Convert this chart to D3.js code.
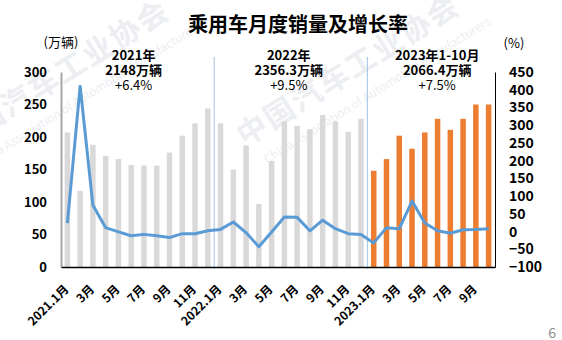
<!DOCTYPE html>
<html>
<head>
<meta charset="utf-8">
<script src="https://cdn.jsdelivr.net/npm/d3@7"></script>
<style>
  html, body { margin: 0; padding: 0; background: #fff; }
  svg { display: block; }
  text { font-family: "Noto Sans CJK SC", "Noto Sans", sans-serif; }
</style>
</head>
<body>
<svg id="chart" width="562" height="340"></svg>
<script>
// ---- data ----
const categories = [
  "2021.1月","2月","3月","4月","5月","6月","7月","8月","9月","10月","11月","12月",
  "2022.1月","2月","3月","4月","5月","6月","7月","8月","9月","10月","11月","12月",
  "2023.1月","2月","3月","4月","5月","6月","7月","8月","9月","10月"
];
const sales2021 = [207, 117, 188, 171, 166, 157, 156, 156, 176, 202, 221, 244];
const sales2022 = [221, 150, 187, 97, 163, 224, 217, 212, 234, 224, 208, 228];
const sales2023 = [148, 166, 202, 182, 207, 228, 211, 228, 250, 250];
const growth = [
  24, 410, 74, 11, -1, -12, -8, -12, -17, -6, -6, 2,
  6, 27, -3, -43, -1, 41, 40, 2, 32, 8, -6, -8,
  -32, 11, 8, 86, 24, 2, -5, 5, 6, 8
];
const leftTicks = [0, 50, 100, 150, 200, 250, 300];
const rightTicks = [-100, -50, 0, 50, 100, 150, 200, 250, 300, 350, 400, 450];
const yearNoteLines = [
  ["2021年", "2148万辆", "+6.4%"],
  ["2022年", "2356.3万辆", "+9.5%"],
  ["2023年1-10月", "2066.4万辆", "+7.5%"]
];
const yearStarts = [0, 12, 24];
const yearEnds = [12, 24, 34];
const title = "乘用车月度销量及增长率";

const sales = sales2021.concat(sales2022, sales2023);
const barData = categories.map((c, i) => ({ c, i, v: sales[i], cur: i >= 24 }));

// ---- layout ----
const svg = d3.select("#chart");
const L = 61, R = 495, T = 72, B = 267;

// faint watermark
const wm = svg.append("g").attr("fill", "#eceef2");
[[245, 147], [-45, 152]].forEach(([x, y]) => {
  const g = wm.append("g").attr("transform", `translate(${x},${y}) rotate(-32)`);
  g.append("text").attr("x", 0).attr("y", 0).attr("font-size", 30).attr("font-weight", 700)
    .attr("letter-spacing", 2).text("中国汽车工业协会");
  g.append("text").attr("x", 10).attr("y", 26).attr("font-size", 12)
    .text("China Association of Automobile Manufacturers");
});

const x = d3.scaleBand().domain(d3.range(categories.length)).range([L, R])
  .paddingInner(0.57).paddingOuter(0.285);
const step = x.step();
const yL = d3.scaleLinear().domain([0, 300]).range([B, T]);
const yR = d3.scaleLinear().domain([-100, 450]).range([B, T]);

// title
svg.append("text").attr("x", 298).attr("y", 32).attr("text-anchor", "middle")
  .attr("font-size", 20).attr("font-weight", 700).attr("fill", "#000").text(title);

// unit labels
svg.append("text").attr("x", 61).attr("y", 47).attr("text-anchor", "middle")
  .attr("font-size", 13).attr("fill", "#000").text("(万辆)");
svg.append("text").attr("x", 514).attr("y", 48).attr("text-anchor", "middle")
  .attr("font-size", 13).attr("fill", "#000").text("(%)");

// bars
svg.append("g").selectAll("rect").data(barData).join("rect")
  .attr("x", d => x(d.i)).attr("width", x.bandwidth())
  .attr("y", d => yL(d.v)).attr("height", d => yL(0) - yL(d.v))
  .attr("fill", d => d.cur ? "#ed7d31" : "#d9d9d9");

// year separators
[12, 24].forEach(k => {
  const xs = L + k * step;
  svg.append("line").attr("x1", xs).attr("x2", xs).attr("y1", 57).attr("y2", B + 2)
    .attr("stroke", "#9dc3e6").attr("stroke-width", 1);
});

// year annotations
const noteShift = [-4, -2, 6];
yearNoteLines.forEach((lines, k) => {
  const cx = L + (yearStarts[k] + yearEnds[k]) / 2 * step + noteShift[k];
  lines.forEach((t, j) => {
    svg.append("text").attr("x", cx).attr("y", 60 + j * 15)
      .attr("text-anchor", "middle").attr("font-size", 13)
      .attr("font-weight", j < 2 ? 700 : 400).attr("fill", "#000").text(t);
  });
});

// left axis
const axL = svg.append("g").attr("transform", `translate(${L},0)`)
  .call(d3.axisLeft(yL).tickValues(leftTicks).tickSize(0).tickPadding(14));
axL.select(".domain").attr("stroke", "#a6a6a6").attr("stroke-width", 2);
axL.selectAll("text").attr("font-size", 13).attr("font-weight", 700).attr("fill", "#000")
  .attr("font-family", "'Noto Sans CJK SC', sans-serif");

// right axis
const axR = svg.append("g").attr("transform", `translate(${R},0)`)
  .call(d3.axisRight(yR).tickValues(rightTicks).tickSize(0).tickPadding(14));
axR.select(".domain").attr("stroke", "#000").attr("stroke-width", 1);
axR.selectAll("text").attr("font-size", 14).attr("font-weight", 700).attr("fill", "#000")
  .attr("font-family", "'Noto Sans CJK SC', sans-serif");

// bottom axis
const axB = svg.append("g").attr("transform", `translate(0,${B})`)
  .call(d3.axisBottom(x).tickSize(0).tickFormat(i => i % 2 === 0 ? categories[i] : ""));
axB.select(".domain").attr("stroke", "#000").attr("stroke-width", 1.5);
axB.selectAll(".tick text")
  .attr("font-size", 12).attr("font-weight", 700).attr("fill", "#000")
  .attr("font-family", "'Noto Sans CJK SC', sans-serif")
  .attr("text-anchor", "end")
  .attr("y", 0).attr("dy", 0)
  .attr("transform", "translate(2,23) rotate(-45)");

// growth line
const line = d3.line().x((d, i) => x(i) + x.bandwidth() / 2).y(d => yR(d));
svg.append("path").datum(growth).attr("d", line)
  .attr("fill", "none").attr("stroke", "#5b9bd5").attr("stroke-width", 3)
  .attr("stroke-linejoin", "round");

// page number
svg.append("text").attr("x", 556).attr("y", 338).attr("text-anchor", "end")
  .attr("font-size", 14).attr("fill", "#8c8c8c").text("6");
</script>
</body>
</html>
